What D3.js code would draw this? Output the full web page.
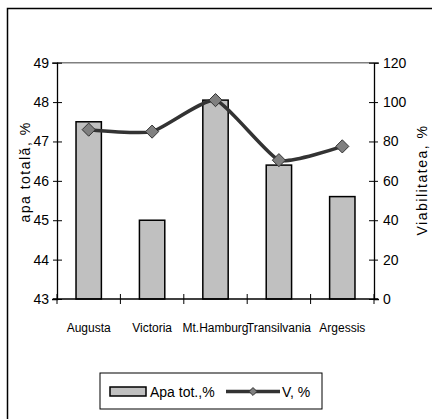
<!DOCTYPE html>
<html>
<head>
<meta charset="utf-8">
<script src="https://cdn.jsdelivr.net/npm/d3@7"></script>
<style>
  body { margin: 0; background: #fff; }
  svg text { font-family: "Liberation Sans", Arial, sans-serif; fill: #000; }
</style>
</head>
<body>
<div id="chart"></div>
<script>
var w = 432;
var h = 419;

// data
var categories = ["Augusta", "Victoria", "Mt.Hamburg", "Transilvania", "Argessis"];
var apaTotala = [47.5, 45.0, 48.05, 46.4, 45.6];
var viabilitate = [86, 85, 101, 70.5, 77.5];
var leftTicks = [43, 44, 45, 46, 47, 48, 49];
var rightTicks = [0, 20, 40, 60, 80, 100, 120];

var plot = { left: 57, right: 374, top: 62.7, bottom: 299 };

var svg = d3.select("#chart")
	.append("svg")
	.attr("width", w)
	.attr("height", h);

// outer chart border (left and top only show)
svg.append("path")
	.attr("d", "M7.5," + h + "V8.5H" + w)
	.attr("fill", "none")
	.attr("stroke", "#000")
	.attr("stroke-width", 1.5);

var x = d3.scaleBand()
	.domain(categories)
	.range([plot.left, plot.right])
	.padding(0);

var yL = d3.scaleLinear().domain([43, 49]).range([plot.bottom, plot.top]);
var yR = d3.scaleLinear().domain([0, 120]).range([plot.bottom, plot.top]);

// plot area top border
svg.append("line")
	.attr("x1", plot.left).attr("x2", plot.right)
	.attr("y1", plot.top).attr("y2", plot.top)
	.attr("stroke", "#808080")
	.attr("stroke-width", 1.5);

// bars
var barW = x.bandwidth() / 2.5;
svg.selectAll("rect.bar")
	.data(categories)
	.enter()
	.append("rect")
	.attr("class", "bar")
	.attr("x", (d) => x(d) + (x.bandwidth() - barW) / 2)
	.attr("y", (d, i) => yL(apaTotala[i]))
	.attr("width", barW)
	.attr("height", (d, i) => yL(43) - yL(apaTotala[i]))
	.attr("fill", "#c0c0c0")
	.attr("stroke", "#000")
	.attr("stroke-width", 1.5);

// left axis
var gL = svg.append("g")
	.attr("transform", "translate(" + plot.left + ",0)")
	.call(d3.axisLeft(yL).tickValues(leftTicks).tickFormat(d3.format("d")).tickSize(5));
gL.select(".domain").attr("stroke-width", 1.3);
gL.selectAll(".tick line").attr("x1", 5).attr("x2", -4);
gL.selectAll(".tick text")
	.attr("x", -8)
	.style("font-size", "14px");

// right axis
var gR = svg.append("g")
	.attr("transform", "translate(" + plot.right + ",0)")
	.call(d3.axisRight(yR).tickValues(rightTicks).tickSize(5));
gR.select(".domain").attr("stroke-width", 1.3);
gR.selectAll(".tick line").attr("x1", -5).attr("x2", 4);
gR.selectAll(".tick text")
	.attr("x", 9)
	.style("font-size", "14px");

// bottom axis
svg.append("line")
	.attr("x1", plot.left - 4).attr("x2", plot.right + 4)
	.attr("y1", plot.bottom).attr("y2", plot.bottom)
	.attr("stroke", "#000")
	.attr("stroke-width", 1.3);

var bounds = categories.map((d) => x(d)).concat([plot.right]);
svg.selectAll("line.xtick")
	.data(bounds)
	.enter()
	.append("line")
	.attr("class", "xtick")
	.attr("x1", (d) => d).attr("x2", (d) => d)
	.attr("y1", plot.bottom - 5).attr("y2", plot.bottom + 5)
	.attr("stroke", "#000");

svg.selectAll("text.cat")
	.data(categories)
	.enter()
	.append("text")
	.attr("class", "cat")
	.attr("x", (d) => x(d) + x.bandwidth() / 2)
	.attr("y", 332)
	.attr("text-anchor", "middle")
	.style("font-size", "12px")
	.text((d) => d);

// viability line
var line = d3.line()
	.x((d, i) => x(categories[i]) + x.bandwidth() / 2)
	.y((d) => yR(d))
	.curve(d3.curveCardinal.tension(0.5));

svg.append("path")
	.datum(viabilitate)
	.attr("d", line)
	.attr("fill", "none")
	.attr("stroke", "#333")
	.attr("stroke-width", 3.5);

var diamond = d3.symbol().type(d3.symbolDiamond2).size(110);
svg.selectAll("path.marker")
	.data(viabilitate)
	.enter()
	.append("path")
	.attr("class", "marker")
	.attr("d", diamond)
	.attr("transform", (d, i) => "translate(" + (x(categories[i]) + x.bandwidth() / 2) + "," + yR(d) + ")")
	.attr("fill", "#808080")
	.attr("stroke", "#333")
	.attr("stroke-width", 1);

// axis titles
svg.append("text")
	.attr("transform", "translate(30,172) rotate(-90)")
	.attr("text-anchor", "middle")
	.style("font-size", "14px")
	.style("letter-spacing", "1.5px")
	.text("apa totală, %");

svg.append("text")
	.attr("transform", "translate(427,180) rotate(-90)")
	.attr("text-anchor", "middle")
	.style("font-size", "14px")
	.style("letter-spacing", "1.5px")
	.text("Viabilitatea, %");

// legend
var lg = svg.append("g");
lg.append("rect")
	.attr("x", 100).attr("y", 373)
	.attr("width", 222).attr("height", 36)
	.attr("fill", "#fff")
	.attr("stroke", "#000")
	.attr("stroke-width", 1);
lg.append("rect")
	.attr("x", 110).attr("y", 387)
	.attr("width", 36).attr("height", 9)
	.attr("fill", "#c0c0c0")
	.attr("stroke", "#000")
	.attr("stroke-width", 1.5);
lg.append("text")
	.attr("x", 150).attr("y", 397)
	.style("font-size", "14px")
	.text("Apa tot.,%");
lg.append("line")
	.attr("x1", 226).attr("x2", 280)
	.attr("y1", 391.5).attr("y2", 391.5)
	.attr("stroke", "#333")
	.attr("stroke-width", 3.5);
lg.append("path")
	.attr("d", d3.symbol().type(d3.symbolDiamond2).size(40))
	.attr("transform", "translate(253,391.5)")
	.attr("fill", "#808080")
	.attr("stroke", "#333");
lg.append("text")
	.attr("x", 282).attr("y", 397)
	.style("font-size", "14px")
	.text("V, %");
</script>
</body>
</html>
